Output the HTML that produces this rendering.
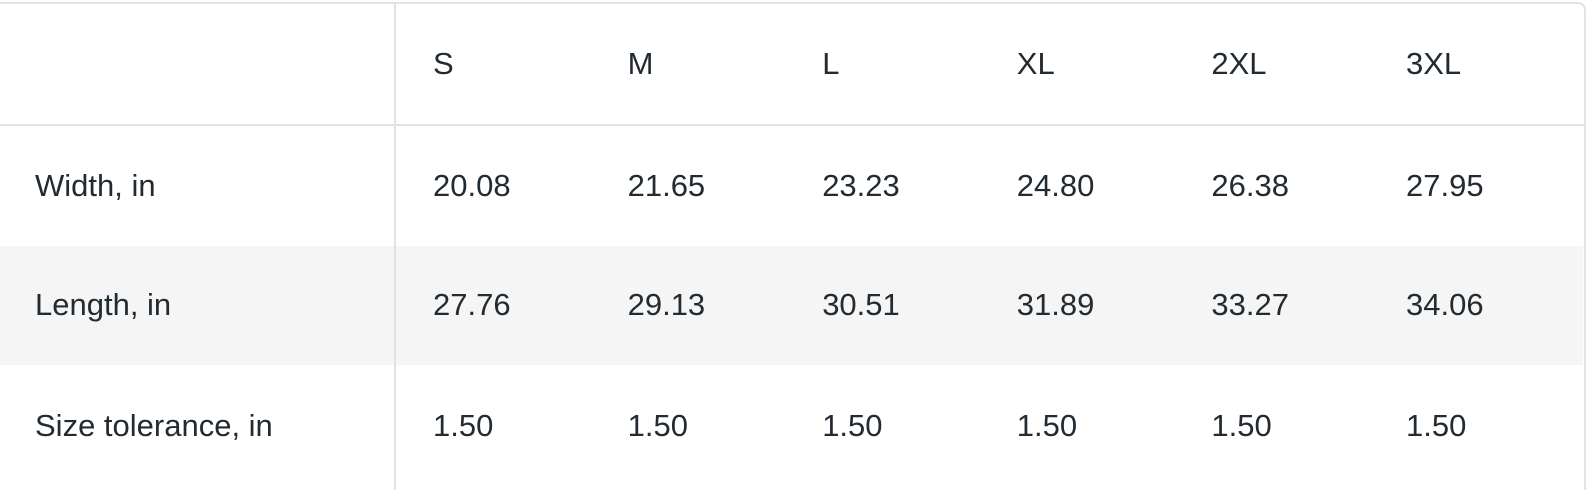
<!DOCTYPE html>
<html style="overflow:hidden;height:490px;"><head><meta charset="utf-8"><style>
html,body{margin:0;padding:0;}
body{width:1588px;height:490px;background:#fff;overflow:hidden;font-family:"Liberation Sans",Arial,sans-serif;color:#222b31;}
#wrap{position:relative;width:1588px;height:490px;overflow:hidden;}
.box{position:absolute;left:0;top:2px;width:1586px;height:488px;border:2px solid #e2e2e2;border-left:none;border-bottom:none;border-top-right-radius:8px;box-sizing:border-box;}
.hl{position:absolute;left:0;width:1584px;height:2px;background:#e2e2e2;top:124px;}
.vl{position:absolute;left:394px;top:2px;width:2px;height:488px;background:#e2e2e2;}
.gray{position:absolute;left:0;top:246px;width:1583px;height:119px;background:#f5f5f5;}
.t{position:absolute;font-size:31px;line-height:32px;white-space:nowrap;}
</style></head><body>
<div id="wrap">
<div class="gray"></div>
<div class="box"></div>
<div class="hl"></div>
<div class="vl"></div>
<div id="tbl"></div>
</div>
<script>
const sizes=["S","M","L","XL","2XL","3XL"];
const rowLabels=["Width, in","Length, in","Size tolerance, in"];
const widthVals=["20.08","21.65","23.23","24.80","26.38","27.95"];
const lengthVals=["27.76","29.13","30.51","31.89","33.27","34.06"];
const tolVals=["1.50","1.50","1.50","1.50","1.50","1.50"];
const rows=[widthVals,lengthVals,tolVals];
const tbl=document.getElementById('tbl');
const colX=i=>433+i*194.6;
const rowY=[64,186,305,426];
function add(txt,x,y,name){
 const d=document.createElement('div');d.className='t';d.textContent=txt;
 d.style.left=x+'px';d.style.top=(y-16)+'px';
 
 
 tbl.appendChild(d);
}
sizes.forEach((s,i)=>add(s,colX(i),rowY[0],'header-'+s.toLowerCase()));
rowLabels.forEach((l,r)=>{
 add(l,35,rowY[r+1],'row-label-'+(r+1));
 rows[r].forEach((v,i)=>add(v,colX(i),rowY[r+1],'cell-'+(r+1)+'-'+sizes[i].toLowerCase()));
});
</script>
</body></html>
